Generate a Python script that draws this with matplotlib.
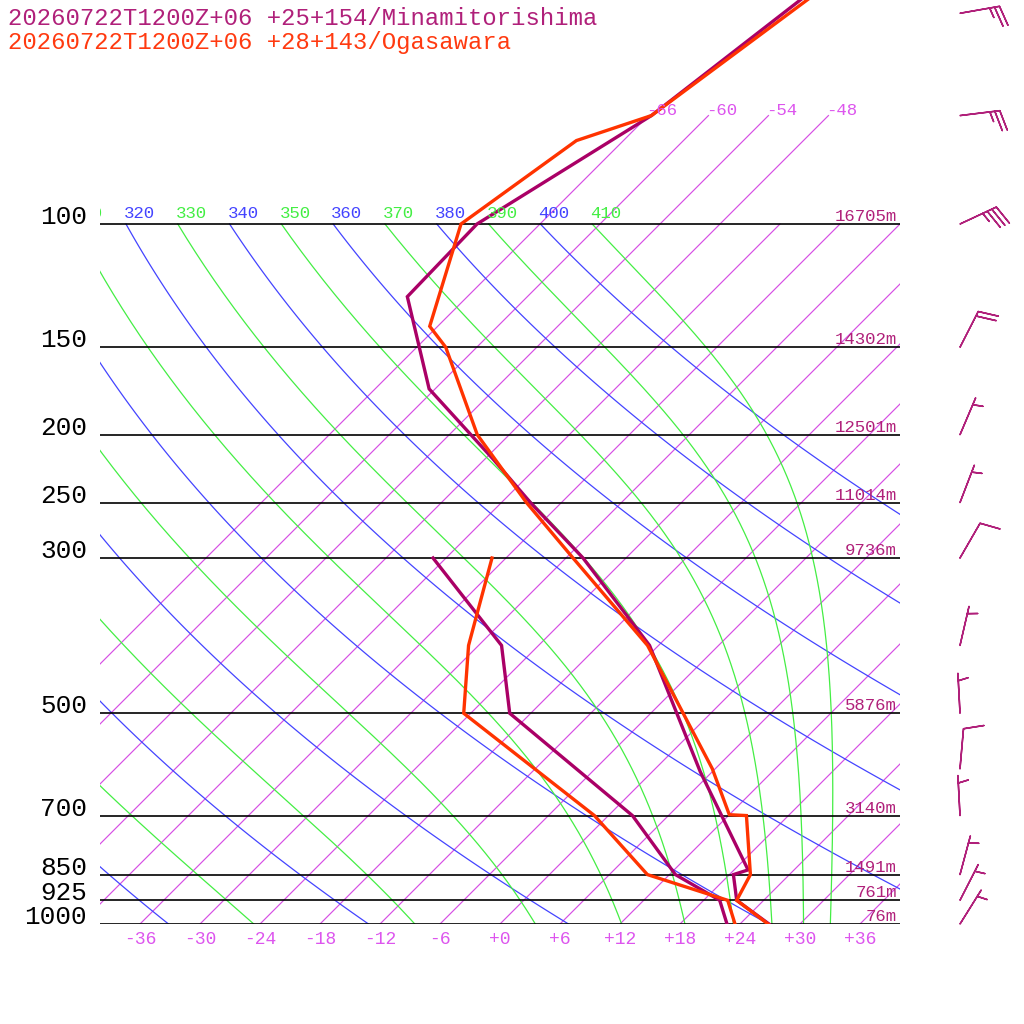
import numpy as np
import matplotlib
matplotlib.use('Agg')
import matplotlib.pyplot as plt
from matplotlib.transforms import Affine2D
from matplotlib.ticker import NullLocator

# standard levels, left labels and heights (right)
levels = [1000, 925, 850, 700, 500, 300, 250, 200, 150, 100]
level_labels = ['1000', '925', '850', '700', '500', '300', '250', '200', '150', '100']
heights = ['76m', '761m', '1491m', '3140m', '5876m', '9736m', '11014m', '12501m', '14302m', '16705m']

# Minamitorishima sounding
minami_p = [1000, 925, 850, 837, 606, 400, 300, 250, 217, 172, 127, 100, 70, 40]
minami_t = [26.9, 21.3, 18.4, 19.4, 4.8, -12.9, -28.3, -39.1, -47.1, -60.6, -72.0, -72.3, -65.7, -60.8]
minami_td_p = [1000, 925, 850, 700, 500, 400, 300]
minami_td = [22.7, 19.6, 12.6, 2.4, -20.1, -27.7, -43.3]

# Ogasawara sounding
ogasa_p = [1000, 925, 850, 700, 698, 600, 400, 300, 250, 200, 150, 140, 100, 76, 70, 40]
ogasa_t = [26.8, 21.3, 20.1, 13.8, 12.0, 5.7, -13.1, -29.3, -39.5, -51.2, -63.1, -66.8, -73.9, -70.7, -65.7, -59.8]
ogasa_td_p = [1000, 925, 850, 700, 500, 400, 300]
ogasa_td = [23.5, 20.4, 9.8, -1.4, -24.7, -31.0, -37.4]

# winds (Minamitorishima): pressure, direction (deg), speed (kt)
wind_p = [50, 70, 100, 150, 200, 250, 300, 400, 500, 600, 700, 850, 925, 1000]
wind_dir = [80, 83, 65, 27, 23, 21, 30, 13, 357, 5, 357, 15, 27, 32]
wind_spd = [25, 25, 35, 20, 5, 5, 10, 5, 5, 10, 5, 5, 5, 5]

isotherms = list(range(-66, 37, 6))
dry_thetas = list(range(240, 401, 20))
moist_thetas = list(range(230, 411, 20))

MAGENTA = '#aa0066'
ORANGE = '#ff3300'
LABEL_MAG = '#b0207a'
VIOLET = '#d64fe4'
BLUE = '#4444ff'
GREEN = '#44ee44'

P_TOP = 1000 * 10 ** (-924 / 700)
RD, CP, LV = 287.04, 1005.7, 2.501e6

plt.rcParams['font.family'] = ['Liberation Mono', 'DejaVu Sans Mono']


def lapse(t, p):
    es = 6.112 * np.exp(17.67 * (t - 273.15) / (t - 29.65))
    rs = 0.622 * es / (p - es)
    return (RD * t + LV * rs) / (p * (CP + LV ** 2 * rs * 0.622 / (RD * t ** 2)))


def moist_adiabat(theta):
    p = np.geomspace(100, 1000, 300)
    t = np.empty_like(p)
    t[0] = theta * 0.1 ** 0.2857
    for i in range(1, len(p)):
        dp = p[i] - p[i - 1]
        k1 = lapse(t[i - 1], p[i - 1])
        k2 = lapse(t[i - 1] + 0.5 * dp * k1, p[i - 1] + 0.5 * dp)
        k3 = lapse(t[i - 1] + 0.5 * dp * k2, p[i - 1] + 0.5 * dp)
        k4 = lapse(t[i - 1] + dp * k3, p[i])
        t[i] = t[i - 1] + dp * (k1 + 2 * k2 + 2 * k3 + k4) / 6
    return p, t - 273.15


fig = plt.figure(figsize=(10.24, 10.24), dpi=100)
ax = fig.add_axes([100 / 1024, 100 / 1024, 800 / 1024, 924 / 1024])
ax.set_yscale('log')
ax.set_ylim(1000, P_TOP)
ax.set_xlim(-40, 40)
ax.set_frame_on(False)
skew = ax.transScale + ax.transLimits + \
    Affine2D(np.array([[1, 924 / 800, 0], [0, 1, 0], [0, 0, 1]])) + ax.transAxes

# isotherms
for t in isotherms:
    ptop = 70 if t <= -48 else 100
    ax.plot([t, t], [1000, ptop], color=VIOLET, lw=0.85, transform=skew)
    if ptop == 70:
        ax.annotate('%d' % t, xy=(t, 70), xycoords=skew, xytext=(-2, 1),
                    textcoords='offset pixels', ha='left', va='baseline',
                    color='#dd55ee', fontsize=12.5, clip_on=True)

# dry adiabats
pp = np.geomspace(1000, 100, 120)
for th in dry_thetas:
    tt = th * (pp / 1000) ** 0.2857 - 273.15
    ax.plot(tt, pp, color=BLUE, lw=0.9, transform=skew)
    if th >= 320:
        ax.annotate(str(th), xy=(tt[-1], 100), xycoords=skew, xytext=(-2, 6),
                    textcoords='offset pixels', ha='left', va='baseline',
                    color=BLUE, fontsize=12.5, clip_on=True)

# moist adiabats
for th in moist_thetas:
    mp, mt = moist_adiabat(th)
    ax.plot(mt, mp, color=GREEN, lw=0.9, transform=skew)
    if th >= 310:
        ax.annotate(str(th), xy=(mt[0], 100), xycoords=skew, xytext=(-2, 6),
                    textcoords='offset pixels', ha='left', va='baseline',
                    color=GREEN, fontsize=12.5, clip_on=True)

# pressure lines and labels
ax.hlines(levels, -40, 40, color='black', lw=1.2)
for p, lab, h in zip(levels, level_labels, heights):
    ax.annotate(lab, xy=(0, p), xycoords=('axes fraction', 'data'), xytext=(-13, 0),
                textcoords='offset pixels', ha='right', va='baseline',
                color='black', fontsize=18.7, annotation_clip=False)
    ax.annotate(h, xy=(1, p), xycoords=('axes fraction', 'data'), xytext=(-3, 3),
                textcoords='offset pixels', ha='right', va='baseline',
                color=LABEL_MAG, fontsize=12.5, annotation_clip=False)

# soundings
ax.plot(minami_td, minami_td_p, color=MAGENTA, lw=2.4, transform=skew, solid_joinstyle='miter')
ax.plot(minami_t, minami_p, color=MAGENTA, lw=2.4, transform=skew, solid_joinstyle='miter')
ax.plot(ogasa_td, ogasa_td_p, color=ORANGE, lw=2.4, transform=skew, solid_joinstyle='miter')
ax.plot(ogasa_t, ogasa_p, color=ORANGE, lw=2.4, transform=skew, solid_joinstyle='miter')

ax.set_xticks(isotherms[5:])
ax.set_xticklabels(['%+d' % t for t in isotherms[5:]])
ax.tick_params(axis='x', length=0, pad=5, labelsize=13, labelcolor='#dd55ee')
ax.set_yticks([])
ax.yaxis.set_minor_locator(NullLocator())
ax.xaxis.set_minor_locator(NullLocator())
ax.set_xlim(-40, 40)
ax.set_ylim(1000, P_TOP)

# wind barbs
bax = fig.add_axes([900 / 1024, 100 / 1024, 124 / 1024, 924 / 1024])
bax.set_yscale('log')
bax.set_ylim(1000, P_TOP)
bax.set_xlim(0, 124)
bax.axis('off')
rad = np.deg2rad(wind_dir)
u = -np.array(wind_spd) * np.sin(rad)
v = -np.array(wind_spd) * np.cos(rad)
bax.barbs(np.full(len(wind_p), 60.0), wind_p, u, v, length=7.6, color=LABEL_MAG,
          linewidth=1.1, sizes=dict(height=0.5), clip_on=False)

fig.text(8 / 1024, 1 - 25 / 1024, '20260722T1200Z+06 +25+154/Minamitorishima',
         color=LABEL_MAG, fontsize=17.2, va='baseline')
fig.text(8 / 1024, 1 - 49 / 1024, '20260722T1200Z+06 +28+143/Ogasawara',
         color='#ff3a10', fontsize=17.2, va='baseline')

fig.savefig('out.png', dpi=100)
